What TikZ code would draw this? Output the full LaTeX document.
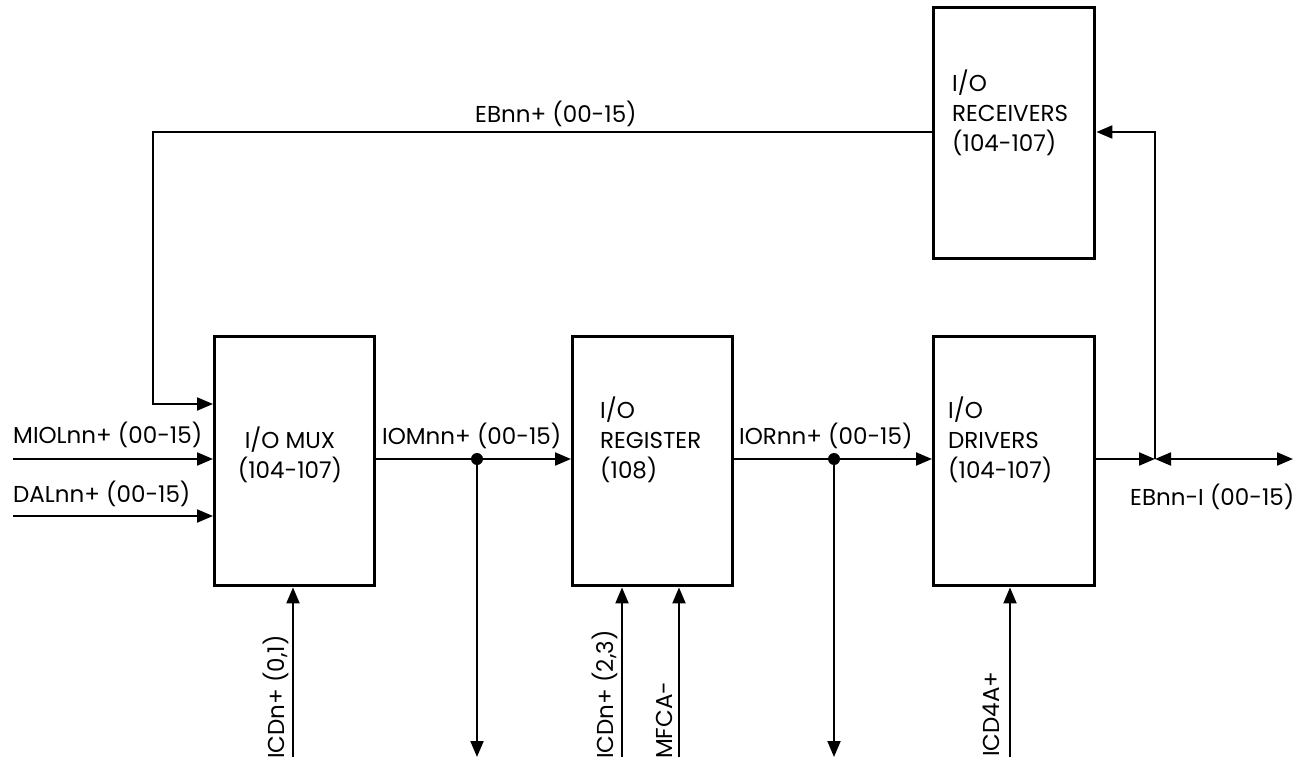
\documentclass[tikz,border=0pt]{standalone}
\usepackage{fontspec}
\setmainfont{Poppins}
\usetikzlibrary{arrows.meta}
\begin{document}
\begin{tikzpicture}[x=1pt,y=-1pt,
  box/.style={draw, line width=3.4pt, inner sep=0pt, anchor=north west},
  wire/.style={line width=2pt},
  arr/.style={wire, -{Triangle[length=16pt,width=13pt]}},
  lbl/.style={font=\fontsize{23}{30}\selectfont, inner sep=0pt},
  dotn/.style={circle, fill, inner sep=0pt, minimum size=12pt}]
\useasboundingbox (0,0) rectangle (1304,770);
% boxes
\node[box, minimum width=160pt, minimum height=249pt] (mux) at (213,335) {};
\node[box, minimum width=160pt, minimum height=249pt] (reg) at (571,335) {};
\node[box, minimum width=161pt, minimum height=249pt] (drv) at (932,335) {};
\node[box, minimum width=161pt, minimum height=251pt] (rcv) at (932,6) {};
% box texts
\node[lbl, align=center] (tmux) at (290,455) {I/O MUX\\(104-107)};
\node[lbl, align=left, anchor=west] (treg) at (600,440) {I/O\\REGISTER\\(108)};
\node[lbl, align=left, anchor=west] (tdrv) at (948,440) {I/O\\DRIVERS\\(104-107)};
\node[lbl, align=left, anchor=west] (trcv) at (952,113) {I/O\\RECEIVERS\\(104-107)};
% inputs
\coordinate (mi) at (13,459);
\coordinate (da) at (13,516);
\draw[arr] (mi) -- (mi -| mux.west);
\draw[arr] (da) -- (da -| mux.west);
\node[lbl, anchor=base west] (lmi) at (13,443) {MIOLnn+ (00-15)};
\node[lbl, anchor=base west] (lda) at (13,502) {DALnn+ (00-15)};
% feedback EB
\coordinate (fb1) at (153,132);
\coordinate (fb2) at (153,404);
\draw[arr] (fb1 -| rcv.west) -- (fb1) -- (fb2) -- (fb2 -| mux.west);
\node[lbl, anchor=base west] (leb) at (475,123) {EBnn+ (00-15)};
% IOM bus
\node[dotn] (d1) at (477,459) {};
\draw[arr] (d1 -| mux.east) -- (d1 -| reg.west);
\coordinate (d1b) at (477,757);
\draw[arr] (d1.center) -- (d1b);
\node[lbl, anchor=base west] (liom) at (382,444) {IOMnn+ (00-15)};
% IOR bus
\node[dotn] (d2) at (834,459) {};
\draw[arr] (d2 -| reg.east) -- (d2 -| drv.west);
\coordinate (d2b) at (834,757);
\draw[arr] (d2.center) -- (d2b);
\node[lbl, anchor=base west] (lior) at (739,444) {IORnn+ (00-15)};
% EB output bus
\coordinate (j) at (1155,459);
\coordinate (ju) at (1155,132);
\coordinate (ebend) at (1293,459);
\draw[arr] (j -| drv.east) -- (j);
\draw[wire, {Triangle[length=16pt,width=13pt]}-{Triangle[length=16pt,width=13pt]}] (j) -- (ebend);
\draw[arr] (j) -- (ju) -- (ju -| rcv.east);
\node[lbl, anchor=base west] (lebi) at (1130,505) {EBnn-I (00-15)};
% control inputs
\coordinate (c1) at (293,757);
\coordinate (c2) at (622,757);
\coordinate (c3) at (679,757);
\coordinate (c4) at (1010,757);
\draw[arr] (c1) -- (c1 |- mux.south);
\draw[arr] (c2) -- (c2 |- reg.south);
\draw[arr] (c3) -- (c3 |- reg.south);
\draw[arr] (c4) -- (c4 |- drv.south);
\node[lbl, rotate=90, anchor=base west] (lc1) at (284,759) {ICDn+ (0,1)};
\node[lbl, rotate=90, anchor=base west] (lc2) at (613,759) {ICDn+ (2,3)};
\node[lbl, rotate=90, anchor=base west] (lc3) at (672,759) {MFCA-};
\node[lbl, rotate=90, anchor=base west] (lc4) at (999,757) {ICD4A+};
\end{tikzpicture}
\end{document}
